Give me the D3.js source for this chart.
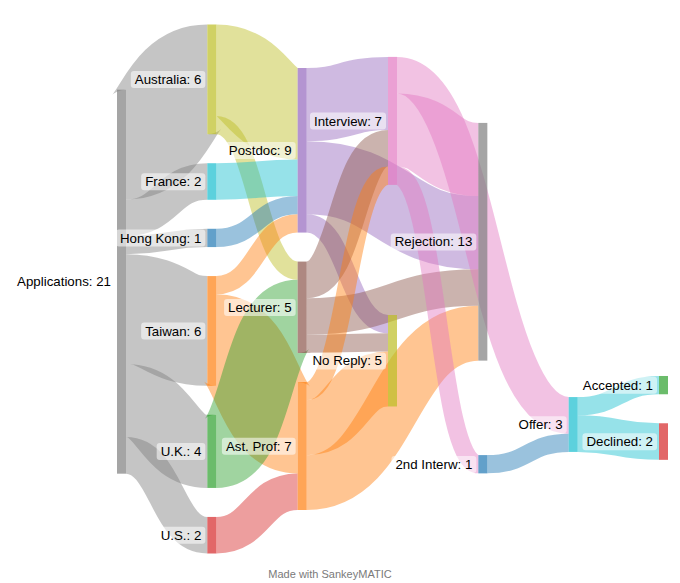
<!DOCTYPE html>
<html><head><meta charset="utf-8">
<script src="https://cdn.jsdelivr.net/npm/d3@7"></script>
<style>
body{margin:0;background:#fff}
svg{display:block}
text{font-family:"Liberation Sans",Arial,Helvetica,sans-serif}
</style>
</head><body>
<svg id="chart" width="680" height="583"></svg>
<script>
// ---------- data ----------
const nodeNames = ["Applications","Australia","France","Hong Kong","Taiwan","U.K.","U.S.",
  "Postdoc","Lecturer","Interview","Rejection","No Reply","Offer","2nd Interw","Ast. Prof","Accepted","Declined"];
const flowSource = ["Applications","Applications","Applications","Applications","Applications","Applications",
  "Australia","Australia","France","Hong Kong","Taiwan","Taiwan","U.K.","U.S.",
  "Postdoc","Postdoc","Postdoc","Lecturer","Lecturer","Lecturer","Ast. Prof","Ast. Prof","Ast. Prof",
  "Interview","Interview","Interview","2nd Interw","Offer","Offer"];
const flowTarget = ["Australia","France","Hong Kong","Taiwan","U.K.","U.S.",
  "Postdoc","Lecturer","Postdoc","Postdoc","Postdoc","Ast. Prof","Lecturer","Ast. Prof",
  "Interview","Rejection","No Reply","Interview","Rejection","No Reply","Interview","No Reply","Rejection",
  "Offer","Rejection","2nd Interw","Offer","Accepted","Declined"];
const flowValue = [6,2,1,6,4,2,
  5,1,2,1,1,5,4,2,
  4,4,1,2,2,1,1,3,3,
  2,4,1,1,1,2];
// manual node moves (SankeyMATIC-style), in flow units relative to the centred stack
const moveNode  = ["Applications","Interview","No Reply","Rejection","2nd Interw","Offer","Accepted","Declined"];
const moveUnits = [-0.4, -5.9, -0.37, -1.29, 2.29, 7.41, 7.05, 7.05];
const footerText = "Made with SankeyMATIC";

// ---------- layout ----------
const ext = {x0:117, x1:668, y0:24.5, y1:553.5};
const nodeWidth = 9, nodePad = 29;

const nodes = nodeNames.map(name => ({name}));
const links = flowValue.map((v,i) => ({source: flowSource[i], target: flowTarget[i], value: v}));

function layout(nodes, links) {
  nodes.forEach((n,i)=>{n.index=i;n.sourceLinks=[];n.targetLinks=[];});
  const byName = new Map(nodes.map(n=>[n.name,n]));
  links.forEach((l,i)=>{
    l.index=i; l.source=byName.get(l.source); l.target=byName.get(l.target);
    l.source.sourceLinks.push(l); l.target.targetLinks.push(l);
  });
  nodes.forEach(n=> n.value = Math.max(d3.sum(n.sourceLinks,d=>d.value), d3.sum(n.targetLinks,d=>d.value)));
  let current = new Set(nodes), next = new Set, depth = 0;
  while (current.size) {
    for (const n of current) { n.depth = depth; for (const l of n.sourceLinks) next.add(l.target); }
    depth++; current = next; next = new Set;
  }
  const nCols = depth;
  const xScale = d3.scaleLinear().domain([0, nCols-1]).range([ext.x0, ext.x1 - nodeWidth]);
  const columns = Array.from({length:nCols}, ()=>[]);
  nodes.forEach(n=>{ n.x0=xScale(n.depth); n.x1=n.x0+nodeWidth; columns[n.depth].push(n); });
  const ky = d3.min(columns, c => (ext.y1-ext.y0-(c.length-1)*nodePad)/d3.sum(c,n=>n.value));
  const hScale = d3.scaleLinear().domain([0,1]).range([0,ky]);
  const moves = new Map(moveNode.map((m,i)=>[m, moveUnits[i]]));

  for (const col of columns) {
    const total = hScale(d3.sum(col, n=>n.value)) + (col.length-1)*nodePad;
    let y = ext.y0 + (ext.y1 - ext.y0 - total)/2;
    for (const n of col) {
      const shift = hScale(moves.get(n.name) || 0);
      n.y0 = y + shift; n.y1 = n.y0 + hScale(n.value);
      y += hScale(n.value) + nodePad;
      for (const l of n.sourceLinks) l.width = hScale(l.value);
    }
  }
  // incoming flows stack by source position; outgoing flows keep input order
  for (const n of nodes) n.targetLinks.sort((a,b)=>(a.source.y0-b.source.y0)||(a.index-b.index));
  for (const n of nodes) {
    let a = n.y0, b = n.y0;
    for (const l of n.sourceLinks) { l.y0 = a + l.width/2; a += l.width; }
    for (const l of n.targetLinks) { l.y1 = b + l.width/2; b += l.width; }
  }
}
layout(nodes, links);

// ---------- drawing ----------
const palette = ["#7f7f7f","#bcbd22","#17becf","#1f77b4","#ff7f0e","#2ca02c","#d62728","#9467bd","#8c564b","#e377c2"];
const color = d3.scaleOrdinal().domain(nodeNames).range(palette);
const svg = d3.select("#chart");

const linkPath = d3.linkHorizontal().source(l=>[l.source.x1, l.y0]).target(l=>[l.target.x0, l.y1]);
svg.append("g").attr("fill","none")
  .selectAll("path").data(links).join("path")
  .attr("d", linkPath)
  .attr("stroke", l=>color(l.source.name))
  .attr("stroke-opacity", 0.45)
  .attr("stroke-width", l=>l.width);

svg.append("g").selectAll("rect").data(nodes).join("rect")
  .attr("x", n=>n.x0).attr("y", n=>n.y0)
  .attr("width", n=>n.x1-n.x0).attr("height", n=>n.y1-n.y0)
  .attr("fill", n=>color(n.name)).attr("fill-opacity", 0.7);

const lg = svg.append("g");
nodes.forEach(n=>{
  const g = lg.append("g");
  const t = g.append("text")
    .attr("x", n.x0 - 6).attr("y", (n.y0+n.y1)/2)
    .attr("dy","0.35em").attr("text-anchor","end")
    .attr("font-size","13.3px").attr("fill","#000")
    .text(`${n.name}: ${n.value}`);
  const bb = t.node().getBBox();
  g.insert("rect","text")
    .attr("x", bb.x-4).attr("y", bb.y-1).attr("width", bb.width+8).attr("height", bb.height+2)
    .attr("rx",3).attr("fill","#fff").attr("fill-opacity",0.55);
});

svg.append("text").attr("x", 330).attr("y", 578).attr("text-anchor","middle")
  .attr("font-size","11px").attr("fill","#7a7a7a").text(footerText);
</script>
</body></html>
